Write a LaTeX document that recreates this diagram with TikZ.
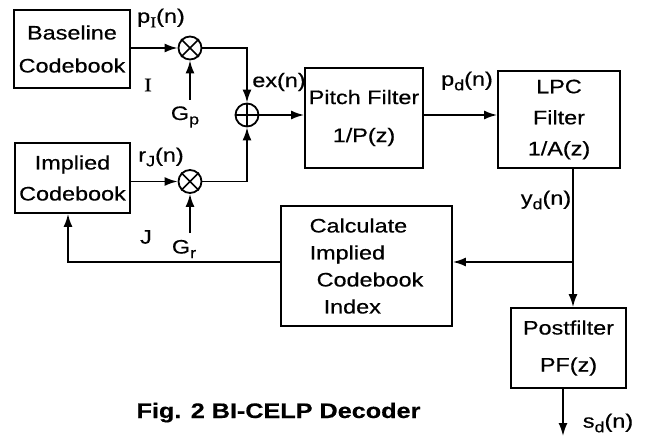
\documentclass[tikz,border=0pt]{standalone}
\usepackage{fontspec}
\setmainfont{Liberation Sans}[FakeStretch=1.2,FakeBold=0.5]
\newfontfamily\serifI{Liberation Serif}[FakeStretch=1.2,FakeBold=0.5]
\usetikzlibrary{arrows.meta}
\newcommand\sbs[1]{\raisebox{-4.5pt}{\fontsize{15}{15}\selectfont #1}}
\tikzset{
 blk/.style={draw, line width=1.8pt, inner sep=0pt, align=center},
 op/.style={draw, circle, line width=1.8pt, minimum size=23pt, inner sep=0pt},
 lbl/.style={font=\fontsize{19.5}{22}\selectfont, inner sep=0pt},
 wire/.style={line width=1.8pt},
 arr/.style={wire, -{Latex[length=13pt,width=9pt]}},
}
\begin{document}
\begin{tikzpicture}[x=1pt,y=-1pt]
\useasboundingbox (0,0) rectangle (646,436);
% blocks
\node[blk, minimum width=116pt, minimum height=78pt, font=\fontsize{19.5}{33}\selectfont] (base) at (72,49) {Baseline\\Codebook};
\node[blk, minimum width=115pt, minimum height=70pt, font=\fontsize{19.5}{31}\selectfont] (impl) at (72.5,178) {Implied\\Codebook};
\node[blk, minimum width=118pt, minimum height=100pt, font=\fontsize{19.5}{38}\selectfont] (pitch) at (364,118) {Pitch Filter\\1/P(z)};
\node[blk, minimum width=122pt, minimum height=97pt, font=\fontsize{19.5}{31}\selectfont] (lpc) at (559,119.5) {LPC\\Filter\\1/A(z)};
\node[blk, minimum width=171pt, minimum height=120pt, align=left, font=\fontsize{19.5}{27}\selectfont] (calc) at (366.5,266) {Calculate\\Implied\\\hspace{7pt}Codebook\\\hspace{14pt}Index};
\node[blk, minimum width=115pt, minimum height=80pt, font=\fontsize{19.5}{37}\selectfont] (post) at (568.5,348) {Postfilter\\PF(z)};
% operators
\node[op] (m1) at (190,48) {};
\node[op] (m2) at (190,181.5) {};
\node[op] (pl) at (247,115) {};
\draw[line width=1.5pt] (m1.north west) -- (m1.south east) (m1.north east) -- (m1.south west);
\draw[line width=1.5pt] (m2.north west) -- (m2.south east) (m2.north east) -- (m2.south west);
\draw[line width=1.5pt] (pl.north) -- (pl.south) (pl.west) -- (pl.east);
% coordinates
\coordinate (gp) at (190,100);
\coordinate (gr) at (190,233);
\coordinate (j) at (573,262);
\coordinate (fb) at (68,262);
\coordinate (out) at (563,436);
% connectors
\draw[arr] (base.east |- m1) -- (m1.west);
\draw[arr] (impl.east |- m2) -- (m2.west);
\draw[arr] (gp) -- (m1.south);
\draw[arr] (gr) -- (m2.south);
\draw[arr] (m1.east) -| (pl.north);
\draw[arr] (m2.east) -| (pl.south);
\draw[arr] (pl.east) -- (pitch.west |- pl);
\draw[arr] (pitch.east |- pl) -- (lpc.west |- pl);
\draw[wire] (lpc.south -| j) -- (j);
\draw[arr] (j) -- (post.north -| j);
\draw[arr] (j) -- (calc.east |- j);
\draw[arr] (calc.west |- j) -- (fb) -- (impl.south -| fb);
\draw[arr] (post.south -| out) -- (out);
% labels
\node[lbl] (lpI) at (161,18) {p\sbs{\serifI I}(n)};
\node[lbl, font=\serifI\fontsize{19.5}{22}\selectfont] (lI) at (148,85) {I};
\node[lbl] (lGp) at (185,117) {G\sbs{p}};
\node[lbl] (lrJ) at (161,157) {r\sbs{J}(n)};
\node[lbl] (lJ) at (146,237) {J};
\node[lbl] (lGr) at (184,249) {G\sbs{r}};
\node[lbl] (lex) at (279,82) {ex(n)};
\node[lbl] (lpd) at (467,81) {p\sbs{d}(n)};
\node[lbl] (lyd) at (546,200) {y\sbs{d}(n)};
\node[lbl] (lsd) at (608,423) {s\sbs{d}(n)};
\node[inner sep=0pt, anchor=base, font=\bfseries\fontsize{21}{24}\selectfont] (cap) at (278.5,418) {Fig. 2 BI-CELP Decoder};
\end{tikzpicture}
\end{document}
